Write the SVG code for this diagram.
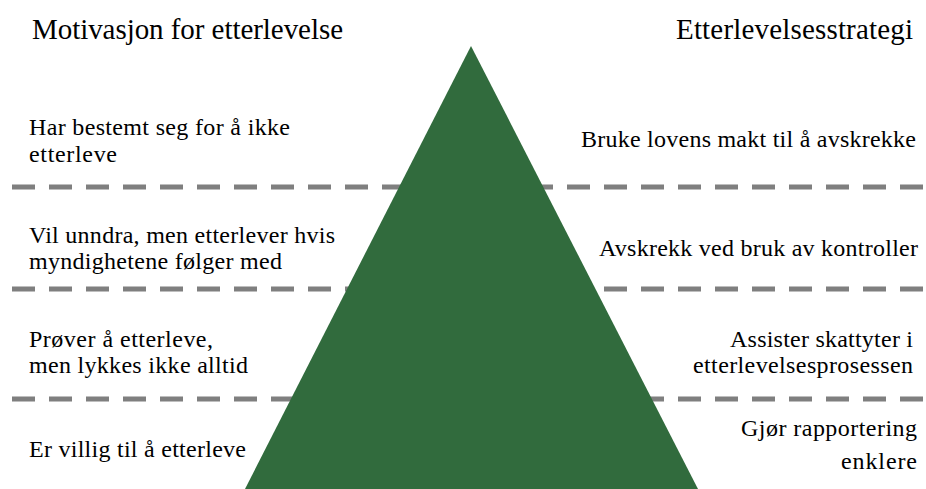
<svg xmlns="http://www.w3.org/2000/svg" width="926" height="489" viewBox="0 0 926 489">
<style>
text{font-family:'Liberation Serif',Tinos,'Times New Roman',serif;fill:#000}
.h{font-size:29px}
.b{font-size:24px}
.d{stroke:#7f7f7f;stroke-width:5;stroke-dasharray:23 14;fill:none}
</style>
<rect width="926" height="489" fill="#fff"/>
<g id="connectors">
<line class="d" x1="12" y1="187" x2="926" y2="187"/>
<line class="d" x1="12" y1="289" x2="926" y2="289"/>
<line class="d" x1="12" y1="399" x2="926" y2="399"/>
</g>
<g id="pyramid">
<polygon points="471,46 698,489 245,489" fill="#316b3d"/>
</g>
<g id="header-left"><text class="h" x="32" y="39" textLength="311" lengthAdjust="spacing">Motivasjon for etterlevelse</text></g>
<g id="header-right"><text class="h" x="676" y="39" textLength="237" lengthAdjust="spacing">Etterlevelsesstrategi</text></g>
<g id="m1"><text class="b" x="29" y="135" textLength="261" lengthAdjust="spacing">Har bestemt seg for å ikke</text><text class="b" x="29" y="162" textLength="88" lengthAdjust="spacing">etterleve</text></g>
<g id="m2"><text class="b" x="29" y="243" textLength="306" lengthAdjust="spacing">Vil unndra, men etterlever hvis</text><text class="b" x="29" y="269" textLength="253" lengthAdjust="spacing">myndighetene følger med</text></g>
<g id="m3"><text class="b" x="29" y="347" textLength="184" lengthAdjust="spacing">Prøver å etterleve,</text><text class="b" x="29" y="373" textLength="219" lengthAdjust="spacing">men lykkes ikke alltid</text></g>
<g id="m4"><text class="b" x="29" y="457" textLength="217" lengthAdjust="spacing">Er villig til å etterleve</text></g>
<g id="s1"><text class="b" x="581" y="147" textLength="335" lengthAdjust="spacing">Bruke lovens makt til å avskrekke</text></g>
<g id="s2"><text class="b" x="599" y="256" textLength="319" lengthAdjust="spacing">Avskrekk ved bruk av kontroller</text></g>
<g id="s3"><text class="b" x="730" y="347" textLength="183" lengthAdjust="spacing">Assister skattyter i</text><text class="b" x="693" y="373" textLength="220" lengthAdjust="spacing">etterlevelsesprosessen</text></g>
<g id="s4"><text class="b" x="741" y="436" textLength="176" lengthAdjust="spacing">Gjør rapportering</text><text class="b" x="841" y="469" textLength="76" lengthAdjust="spacing">enklere</text></g>
</svg>
